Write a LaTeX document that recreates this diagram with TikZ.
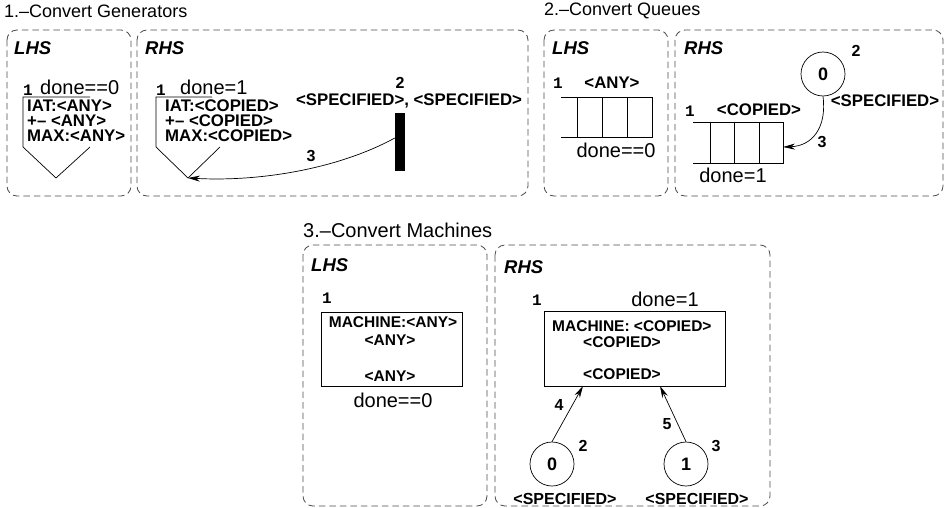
\documentclass[tikz,border=0pt]{standalone}
\usepackage{fontspec}
\setmainfont{Liberation Sans}
\newfontfamily\idxfont{Liberation Mono}
\usetikzlibrary{arrows.meta}
\begin{document}
\begin{tikzpicture}[x=1pt,y=-1pt,
  panel/.style={draw=black!70, dash pattern=on 6.5pt off 4pt, rounded corners=10pt, line width=0.8pt},
  title/.style={font=\fontsize{18}{20}\selectfont, anchor=west, inner sep=0},
  side/.style={font=\fontsize{18.5}{20}\selectfont\bfseries\itshape, anchor=west, inner sep=0},
  cond/.style={font=\fontsize{20}{22}\selectfont, inner sep=0},
  attr/.style={font=\fontsize{16.8}{18}\selectfont\bfseries, inner sep=0},
  mattr/.style={font=\fontsize{15.5}{17}\selectfont\bfseries, inner sep=0},
  idx/.style={font=\fontsize{16}{18}\selectfont\idxfont\bfseries, inner sep=0},
  num/.style={font=\fontsize{16}{18}\selectfont\bfseries, inner sep=0},
  token/.style={draw, circle, minimum size=44pt, inner sep=0, font=\fontsize{18}{20}\selectfont\bfseries, line width=0.7pt},
  outline/.style={line width=0.7pt},
  machine/.style={draw, line width=0.7pt, inner sep=0},
  link/.style={line width=0.7pt, -{Stealth[length=12pt,width=6pt]}}
]
\useasboundingbox (0,0) rectangle (947,508);

% ---------------- 1. Convert Generators ----------------
\node[title] (t1) at (4,11) {1.–Convert Generators};
\draw[panel] (7,30) rectangle (131,196);
\draw[panel] (137,30) rectangle (528,196);
\node[side] (lhs1) at (14,48) {LHS};
\node[side] (rhs1) at (145,48) {RHS};

% generator, left-hand side
\coordinate (gA) at (56,178);
\draw[outline] (90,97) -- (23,97) -- (23,147) -- (gA) -- (90,147);
\node[idx] (gAi) at (28,90) {1};
\node[cond, anchor=west] (gAc) at (40,87) {done==0};
\node[attr, anchor=west] (gA1) at (27,106) {IAT:<ANY>};
\node[attr, anchor=west] (gA2) at (27,121) {+– <ANY>};
\node[attr, anchor=west] (gA3) at (27,136) {MAX:<ANY>};

% generator, right-hand side
\coordinate (gB) at (188,178);
\draw[outline] (212,97) -- (156,97) -- (156,147) -- (gB) -- (220,147);
\node[idx] (gBi) at (161,90) {1};
\node[cond, anchor=west] (gBc) at (180,87) {done=1};
\node[attr, anchor=west] (gB1) at (165,106) {IAT:<COPIED>};
\node[attr, anchor=west] (gB2) at (165,121) {+– <COPIED>};
\node[attr, anchor=west] (gB3) at (165,136) {MAX:<COPIED>};

% output bar
\node[fill=black, minimum width=10pt, minimum height=58pt, inner sep=0] (bar) at (400,142) {};
\node[num] (barn) at (400,83) {2};
\node[attr] (barl) at (409,101) {<SPECIFIED>, <SPECIFIED>};
\draw[link] ([yshift=4pt]bar.west) .. controls (340,168) and (262,182) .. (gB);
\node[num] (e3) at (311,156) {3};

% ---------------- 2. Convert Queues ----------------
\node[title] (t2) at (544,11) {2.–Convert Queues};
\draw[panel] (544,30) rectangle (668,196);
\draw[panel] (675,30) rectangle (943,196);
\node[side] (lhs2) at (552,48) {LHS};
\node[side] (rhs2) at (684,48) {RHS};

% queue, left-hand side
\draw[outline] (561,97) -- (652,97) -- (652,137) -- (561,137);
\draw[outline] (577,97) -- (577,137) (602,97) -- (602,137) (627,97) -- (627,137);
\node[idx] (qAi) at (558,83) {1};
\node[attr] (qAl) at (612,83) {<ANY>};
\node[cond] (qAc) at (616,150) {done==0};

% queue, right-hand side
\coordinate (qBin) at (783,147);
\draw[outline] (693,122) -- (783,122) -- (783,163) -- (693,163);
\draw[outline] (710,122) -- (710,163) (734,122) -- (734,163) (759,122) -- (759,163);
\node[idx] (qBi) at (690,111) {1};
\node[attr] (qBl) at (759,110) {<COPIED>};
\node[cond] (qBc) at (733,175) {done=1};
\node[token] (qtok) at (823,74) {0};
\node[num] (qtokn) at (856,51) {2};
\node[attr] (qtokl) at (885,101) {<SPECIFIED>};
\draw[link] (qtok.south) .. controls (827,128) and (812,146) .. (qBin);
\node[num] (q3) at (822,142) {3};

% ---------------- 3. Convert Machines ----------------
\node[title, font=\fontsize{20}{22}\selectfont] (t3) at (303,230) {3.–Convert Machines};
\draw[panel] (303,245) rectangle (487,506);
\draw[panel] (495,245) rectangle (770,506);
\node[side] (lhs3) at (311,265) {LHS};
\node[side] (rhs3) at (504,267) {RHS};

% machine, left-hand side
\node[machine, minimum width=141pt, minimum height=74pt] (mA) at (391.5,349) {};
\node[idx] (mAi) at (327,298) {1};
\node[mattr] (mA1) at (393,322) {MACHINE:<ANY>};
\node[mattr] (mA2) at (390,340) {<ANY>};
\node[mattr] (mA3) at (390,376) {<ANY>};
\node[cond] (mAc) at (393,400) {done==0};

% machine, right-hand side
\node[machine, minimum width=181pt, minimum height=75pt] (mB) at (634.5,348.5) {};
\node[idx] (mBi) at (537,300) {1};
\node[cond] (mBc) at (665,299) {done=1};
\node[mattr, anchor=west] (mB1) at (552,326) {MACHINE: <COPIED>};
\node[mattr] (mB2) at (622,342) {<COPIED>};
\node[mattr] (mB3) at (622,374) {<COPIED>};
\coordinate (mBinA) at (583,386);
\coordinate (mBinB) at (660,386);

\node[token] (tk0) at (552,464) {0};
\node[token] (tk1) at (686,464) {1};
\node[num] (tk0n) at (583,446) {2};
\node[num] (tk1n) at (716,446) {3};
\node[mattr, font=\fontsize{16}{18}\selectfont\bfseries] (tk0l) at (565,499) {<SPECIFIED>};
\node[mattr, font=\fontsize{16}{18}\selectfont\bfseries] (tk1l) at (697,499) {<SPECIFIED>};
\draw[link] (tk0.north) -- (mBinA);
\draw[link] (tk1.north) -- (mBinB);
\node[num] (e4) at (559,405) {4};
\node[num] (e5) at (667,424) {5};
\end{tikzpicture}
\end{document}
